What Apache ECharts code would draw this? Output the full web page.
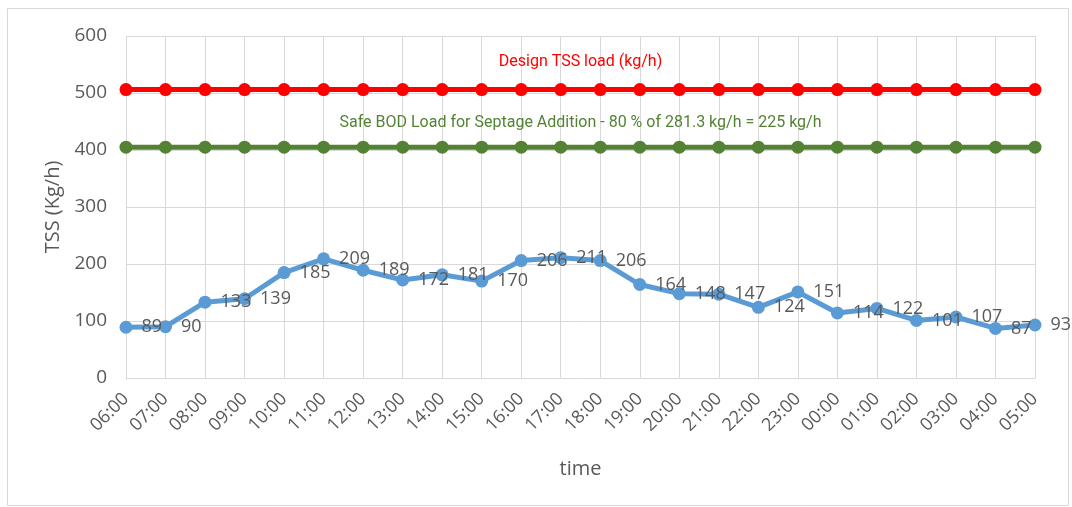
<!DOCTYPE html>
<html><head><meta charset="utf-8">
<script src="https://cdn.jsdelivr.net/npm/echarts@6/dist/echarts.min.js"></script>
<style>html,body{margin:0;padding:0;background:#fff}#c{width:1072px;height:507px}</style>
</head><body><div id="c"></div>
<script>
const categories = ["06:00","07:00","08:00","09:00","10:00","11:00","12:00","13:00","14:00","15:00","16:00","17:00","18:00","19:00","20:00","21:00","22:00","23:00","00:00","01:00","02:00","03:00","04:00","05:00"];
const tssValues = [89,90,133,139,185,209,189,172,181,170,206,211,206,164,148,147,124,151,114,122,101,107,87,93];
const designTSS = 506;
const safeBOD = 405;
const yTicks = {min:0, max:600, interval:100};
const designLabel = "Design TSS load (kg/h)";
const safeLabel = "Safe BOD Load for Septage Addition - 80 % of 281.3 kg/h = 225 kg/h";

const designValues = categories.map(() => designTSS);
const safeValues = categories.map(() => safeBOD);

const chart = echarts.init(document.getElementById('c'));
const grey = '#595959';
const font = '"Open Sans", sans-serif';
chart.setOption({
  animation:false,
  grid:{left:126,right:37,top:36,bottom:129},
  xAxis:{type:'category',data:categories,boundaryGap:false,
    name:'time',nameLocation:'middle',nameGap:81,
    nameTextStyle:{color:grey,fontSize:20,fontFamily:font},
    axisLine:{lineStyle:{color:'#d9d9d9',width:1}},
    axisTick:{show:false},
    axisLabel:{rotate:45,color:grey,fontSize:18,fontFamily:font,margin:18,interval:0},
    splitLine:{show:true,lineStyle:{color:'#d9d9d9',width:1}}},
  yAxis:{type:'value',min:yTicks.min,max:yTicks.max,interval:yTicks.interval,
    name:'TSS (Kg/h)',nameLocation:'middle',nameGap:62,
    nameTextStyle:{color:grey,fontSize:20,fontFamily:font},
    axisLine:{show:false},axisTick:{show:false},
    axisLabel:{color:grey,fontSize:19,fontFamily:font,margin:19},
    splitLine:{lineStyle:{color:'#d9d9d9',width:1}}},
  series:[
    {type:'line',data:designValues,color:'#ff0000',lineStyle:{width:5,color:'#ff0000'},
     symbol:'circle',symbolSize:13,itemStyle:{color:'#ff0000'}},
    {type:'line',data:safeValues,color:'#548235',lineStyle:{width:5,color:'#548235'},
     symbol:'circle',symbolSize:13,itemStyle:{color:'#548235'}},
    {type:'line',data:tssValues,lineStyle:{width:5,color:'#5b9bd5'},
     symbol:'circle',symbolSize:13,itemStyle:{color:'#5b9bd5'},
     label:{show:true,position:'right',distance:9,color:grey,fontSize:18,fontFamily:font}}
  ]
});
const pMid = chart.convertToPixel({gridIndex:0},[0,0]);
const pEnd = chart.convertToPixel({gridIndex:0},[categories.length-1,0]);
const cx = (pMid[0]+pEnd[0])/2;
const yRed = chart.convertToPixel({yAxisIndex:0}, 555);
const yGreen = chart.convertToPixel({yAxisIndex:0}, 447);
chart.setOption({graphic:[
  {type:'rect',shape:{x:7.5,y:8.5,width:1061,height:497},style:{fill:'none',stroke:'#d9d9d9',lineWidth:1},silent:true},
  {type:'text',x:cx,y:yRed,style:{text:designLabel,fill:'#ff0000',font:'16px Roboto',align:'center',verticalAlign:'middle'}},
  {type:'text',x:cx,y:yGreen,style:{text:safeLabel,fill:'#548235',font:'16px Roboto',align:'center',verticalAlign:'middle'}}
]});
</script></body></html>
